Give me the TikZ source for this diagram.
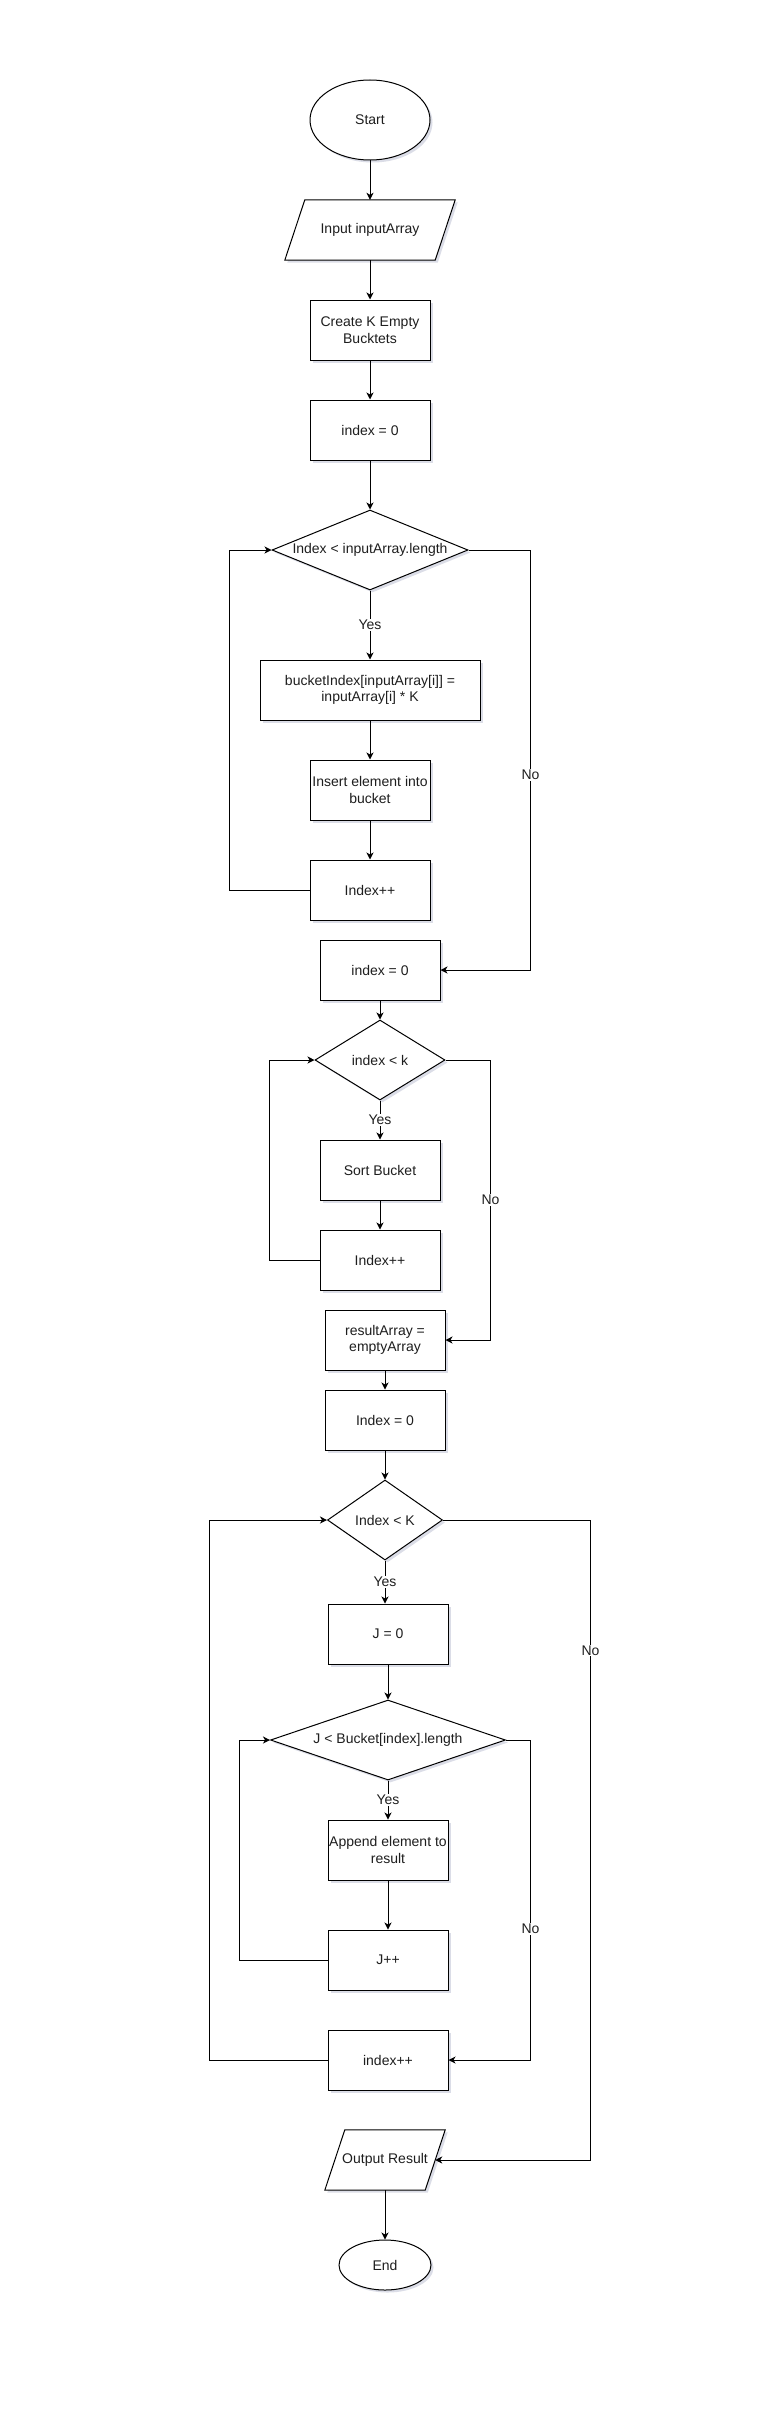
\documentclass[tikz,border=0pt]{standalone}
\usepackage{fontspec}
\setmainfont{Liberation Sans}
\usetikzlibrary{shapes.geometric,arrows.meta,shadows}
\pgfdeclarelayer{bg}
\pgfsetlayers{bg,main}
\definecolor{txt}{HTML}{1E1E1E}
\definecolor{shd}{HTML}{8A8FB0}
\tikzset{
  fnt/.style={text=txt, font=\fontsize{14}{16.7}\selectfont, align=center},
  base/.style={fnt, draw=black, line width=1pt, fill=white, inner sep=0pt,
    drop shadow={shadow xshift=2.5pt, shadow yshift=-2.5pt, fill=shd, opacity=0.3}},
  proc/.style={base, rectangle, minimum width=120pt, minimum height=60pt},
  term/.style={base, ellipse},
  dec/.style={base, diamond},
  io/.style={fnt, rectangle, inner sep=0pt, minimum height=60pt},
  inlbl/.style={fnt, inner sep=0pt},
  arr/.style={draw=black, line width=1pt, -{Stealth[length=7pt,width=7pt,inset=2pt]}},
  lbl/.style={fill=white, text=txt, font=\fontsize{14}{16}\selectfont, inner sep=1pt},
}
\begin{document}
\begin{tikzpicture}[x=1pt,y=-1pt]
\useasboundingbox (0,0) rectangle (766,2411);

% nodes
\node[term, minimum width=120pt, minimum height=80pt] (start) at (370,120) {Start};
\node[io, minimum width=150pt] (inp) at (370,230) {Input inputArray};
\node[proc] (create) at (370,330) {Create K Empty\\Bucktets};
\node[proc] (i0a) at (370,430) {index = 0};
\node[dec, minimum width=196pt, minimum height=80pt,
  label={[inlbl]center:Index < inputArray.length}] (d1) at (370,550) {};
\node[proc, minimum width=220pt] (bk) at (370,690) {bucketIndex[inputArray[i]] =\\inputArray[i] * K};
\node[proc] (ins) at (370,790) {Insert element into\\bucket};
\node[proc] (inc1) at (370,890) {Index++};
\node[proc] (i0b) at (380,970) {index = 0};
\node[dec, minimum width=130pt, minimum height=80pt,
  label={[inlbl]center:index < k}] (d2) at (380,1060) {};
\node[proc] (sort) at (380,1170) {Sort Bucket};
\node[proc] (inc2) at (380,1260) {Index++};
\node[proc] (res) at (385,1340) {resultArray =\\emptyArray};
\node[proc] (i0c) at (385,1420) {Index = 0};
\node[dec, minimum width=115pt, minimum height=80pt,
  label={[inlbl]center:Index < K}] (d3) at (385,1520) {};
\node[proc] (j0) at (388,1634) {J = 0};
\node[dec, minimum width=235pt, minimum height=80pt,
  label={[inlbl]center:J < Bucket[index].length}] (d4) at (388,1740) {};
\node[proc] (app) at (388,1850) {Append element to\\result};
\node[proc] (jinc) at (388,1960) {J++};
\node[proc] (inc3) at (388,2060) {index++};
\node[io, minimum width=100pt] (out) at (385,2160) {Output Result};
\node[term, minimum width=92pt, minimum height=50pt] (end) at (385,2265) {End};

% parallelograms on background layer
\begin{pgfonlayer}{bg}
\fill[white] (0,0) rectangle (766,2411);
\foreach \n in {inp,out}{
  \fill[shd, opacity=0.3] ([xshift=12.5pt,yshift=-2.5pt]\n.north west) -- ([xshift=12.5pt,yshift=-2.5pt]\n.north east)
     -- ([xshift=-7.5pt,yshift=-2.5pt]\n.south east) -- ([xshift=-7.5pt,yshift=-2.5pt]\n.south west) -- cycle;
  \draw[line width=1pt, fill=white] ([xshift=10pt]\n.north west) -- ([xshift=10pt]\n.north east)
     -- ([xshift=-10pt]\n.south east) -- ([xshift=-10pt]\n.south west) -- cycle;
}
\end{pgfonlayer}

% connectors
\draw[arr] (start) -- (inp);
\draw[arr] (inp) -- (create);
\draw[arr] (create) -- (i0a);
\draw[arr] (i0a) -- (d1);
\draw[arr] (d1) -- node[lbl]{Yes} (bk);
\draw[arr] (bk) -- (ins);
\draw[arr] (ins) -- (inc1);
\draw[arr] (inc1.west) -- ++(-80,0) |- (d1.west);
\draw[arr] (d1.east) -- ++(62,0) |- node[lbl,pos=0.268]{No} (i0b.east);

\draw[arr] (i0b) -- (d2);
\draw[arr] (d2) -- node[lbl]{Yes} (sort);
\draw[arr] (sort) -- (inc2);
\draw[arr] (inc2.west) -- ++(-50,0) |- (d2.west);
\draw[arr] (d2.east) -- ++(45,0) |- node[lbl,pos=0.25]{No} (res.east);

\draw[arr] (res) -- (i0c);
\draw[arr] (i0c) -- (d3);
\draw[arr] (d3.south) -- node[lbl]{Yes} (d3.south |- j0.north);
\draw[arr] (j0) -- (d4);
\draw[arr] (d4) -- node[lbl]{Yes} (app);
\draw[arr] (app) -- (jinc);
\draw[arr] (jinc.west) -- ++(-88,0) |- (d4.west);
\draw[arr] (d4.east) -- ++(24.5,0) |- node[lbl,pos=0.295]{No} (inc3.east);
\draw[arr] (inc3.west) -- ++(-118,0) |- (d3.west);
\draw[arr] (d3.east) -- ++(147.5,0) |- node[lbl,pos=0.102]{No} (out.east);
\draw[arr] (out) -- (end);
\end{tikzpicture}
\end{document}
